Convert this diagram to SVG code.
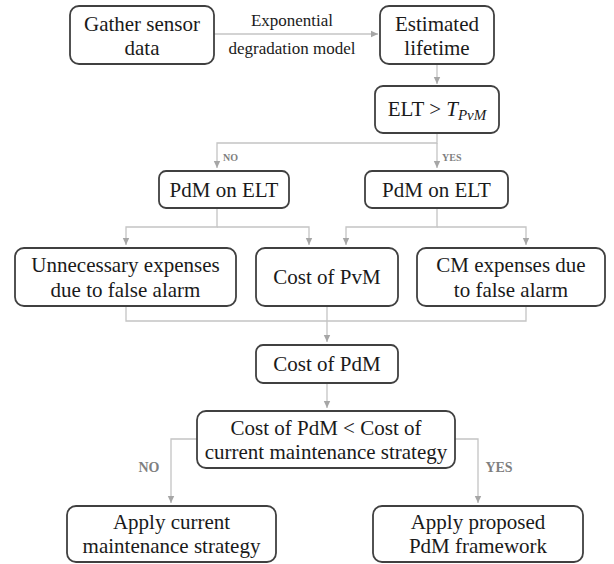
<svg xmlns="http://www.w3.org/2000/svg" width="614" height="564" viewBox="0 0 614 564">
<style>
.box{fill:#ffffff;stroke:#404040;stroke-width:1.8}
.t{font-family:"Liberation Serif","Times New Roman",serif;font-size:21px;fill:#1a1a1a;text-anchor:middle}
.lbl{font-family:"Liberation Serif","Times New Roman",serif;font-size:17px;fill:#1a1a1a;text-anchor:middle}
.c{fill:none;stroke:#c4c4c4;stroke-width:1.3}
.yn{font-family:"Liberation Serif","Times New Roman",serif;font-weight:bold;font-size:10px;fill:#7f7f7f}
.yn2{font-family:"Liberation Serif","Times New Roman",serif;font-weight:bold;font-size:14px;fill:#7f7f7f;text-anchor:middle}
</style>
<defs>
<marker id="ah" markerUnits="userSpaceOnUse" markerWidth="8" markerHeight="8" refX="7" refY="4" orient="auto">
<path d="M0,0.8 L7,4 L0,7.2 Z" fill="#a6a6a6"/>
</marker>
</defs>
<rect width="614" height="564" fill="#ffffff"/>
<g id="connectors">
<path class="c" d="M214,34 H378" marker-end="url(#ah)"/>
<path class="c" d="M437,64 V84" marker-end="url(#ah)"/>
<path class="c" d="M437,133 V143 H217 V168" marker-end="url(#ah)"/>
<path class="c" d="M437,143 V168" marker-end="url(#ah)"/>
<path class="c" d="M217,208 V227 H126 V245" marker-end="url(#ah)"/>
<path class="c" d="M217,227 H309 V245" marker-end="url(#ah)"/>
<path class="c" d="M437,208 V227 H346 V245" marker-end="url(#ah)"/>
<path class="c" d="M437,227 H526 V245" marker-end="url(#ah)"/>
<path class="c" d="M126,306 V321 H526 V306"/>
<path class="c" d="M327,306 V342" marker-end="url(#ah)"/>
<path class="c" d="M327,383 V408" marker-end="url(#ah)"/>
<path class="c" d="M197,439 H171 V503" marker-end="url(#ah)"/>
<path class="c" d="M455,439 H478 V503" marker-end="url(#ah)"/>
<text class="lbl" x="292" y="26">Exponential</text>
<text class="lbl" x="292" y="54">degradation model</text>
<text class="yn" x="223" y="161">NO</text>
<text class="yn" x="442" y="161">YES</text>
<text class="yn2" x="149" y="472">NO</text>
<text class="yn2" x="499" y="472">YES</text>
</g>
<g id="gather">
<rect class="box" x="70" y="6" width="144" height="58" rx="9"/>
<text class="t" x="142" y="31">Gather sensor</text>
<text class="t" x="142" y="55">data</text>
</g>
<g id="estimated">
<rect class="box" x="380" y="6" width="114" height="58" rx="9"/>
<text class="t" x="437" y="31">Estimated</text>
<text class="t" x="437" y="55">lifetime</text>
</g>
<g id="elt">
<rect class="box" x="375" y="86" width="124" height="47" rx="8"/>
<text class="t" x="437" y="116">ELT &gt; <tspan font-style="italic">T</tspan><tspan font-style="italic" font-size="15" dy="4">PvM</tspan></text>
</g>
<g id="pdm-no">
<rect class="box" x="159" y="171" width="130" height="37" rx="7"/>
<text class="t" x="224" y="197">PdM on ELT</text>
</g>
<g id="pdm-yes">
<rect class="box" x="365" y="171" width="143" height="37" rx="7"/>
<text class="t" x="436.5" y="197">PdM on ELT</text>
</g>
<g id="unnecessary">
<rect class="box" x="15" y="248" width="221" height="58" rx="9"/>
<text class="t" x="125.5" y="272">Unnecessary expenses</text>
<text class="t" x="125.5" y="297">due to false alarm</text>
</g>
<g id="pvm">
<rect class="box" x="256" y="248" width="142" height="58" rx="9"/>
<text class="t" x="327" y="284">Cost of PvM</text>
</g>
<g id="cm">
<rect class="box" x="417" y="248" width="188" height="58" rx="9"/>
<text class="t" x="511" y="272">CM expenses due</text>
<text class="t" x="511" y="297">to false alarm</text>
</g>
<g id="costpdm">
<rect class="box" x="256" y="345" width="142" height="38" rx="7"/>
<text class="t" x="327" y="371">Cost of PdM</text>
</g>
<g id="decision">
<rect class="box" x="197" y="411" width="258" height="57" rx="9"/>
<text class="t" x="326" y="435">Cost of PdM &lt; Cost of</text>
<text class="t" x="326" y="459">current maintenance strategy</text>
</g>
<g id="apply-current">
<rect class="box" x="67" y="506" width="209" height="56" rx="9"/>
<text class="t" x="171.5" y="529">Apply current</text>
<text class="t" x="171.5" y="553">maintenance strategy</text>
</g>
<g id="apply-proposed">
<rect class="box" x="373" y="506" width="210" height="56" rx="9"/>
<text class="t" x="478" y="529">Apply proposed</text>
<text class="t" x="478" y="553">PdM framework</text>
</g>
</svg>
